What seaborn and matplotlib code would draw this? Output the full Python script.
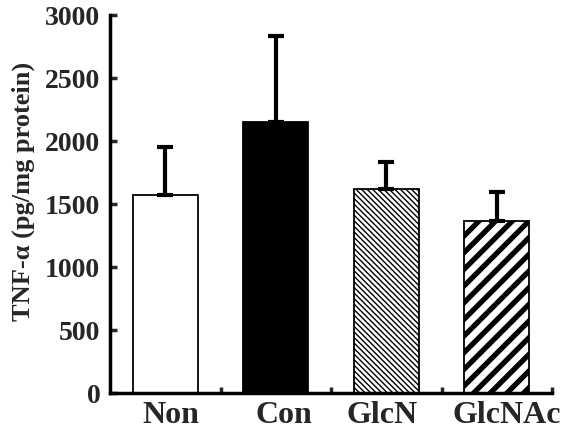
import matplotlib
matplotlib.use("Agg")
import matplotlib.pyplot as plt
import matplotlib.transforms as mtransforms
import seaborn as sns
import pandas as pd
import numpy as np

categories = ["Non", "Con", "GlcN", "GlcNAc"]
values = [1575, 2150, 1620, 1365]
errors = [380, 685, 215, 230]
fills = ["white", "black", "white", "white"]
hatches = [None, None, "\\\\\\\\\\\\", "//"]
hatch_lw = [1.0, 1.0, 1.0, 3.8]
label_shift_px = [6, 8, -4, 10]

sns.set_theme(style="white")
plt.rcParams['font.family'] = ['Liberation Serif', 'DejaVu Serif']
plt.rcParams['font.weight'] = 'bold'

df = pd.DataFrame({"group": categories, "value": values})

fig = plt.figure(figsize=(5.66, 4.40), dpi=100)
ax = fig.add_axes([110/566, 1-393/440, (552-110)/566, (393-15)/440])

sns.barplot(data=df, x="group", y="value", order=categories, ax=ax,
            width=0.59, errorbar=None, color="white", edgecolor="black",
            linewidth=1.3, zorder=2)

for i, p in enumerate(ax.patches):
    p.set_facecolor(fills[i])
    p.set_edgecolor("black")
    if hatches[i]:
        p.set_hatch(hatches[i])
        try:
            p.set_hatch_linewidth(hatch_lw[i])
        except Exception:
            pass

ax.errorbar(range(len(categories)), values, yerr=[np.zeros(len(errors)), errors],
            fmt="none", ecolor="black", elinewidth=3, capsize=6, capthick=3, zorder=3)

ax.set_xlim(-0.5, 3.5)
ax.set_ylim(0, 3000)
ax.set_yticks([0, 500, 1000, 1500, 2000, 2500, 3000])
ax.set_xticks(range(4))
ax.set_xticklabels(categories)
ax.set_xticks([0.5, 1.5, 2.5, 3.5], minor=True)
ax.tick_params(axis="x", which="major", length=0, labelsize=23, pad=6)
ax.tick_params(axis="x", which="minor", direction="in", length=4, width=2.5, bottom=True)
ax.tick_params(axis="y", which="major", direction="in", length=5, width=2.5, left=True, labelsize=20, pad=7)
for lab in ax.get_xticklabels() + ax.get_yticklabels():
    lab.set_fontweight("bold")
for lab, dx in zip(ax.get_xticklabels(), label_shift_px):
    lab.set_transform(lab.get_transform() + mtransforms.ScaledTranslation(dx / 100, 0, fig.dpi_scale_trans))
ax.set_xlabel("")
ax.set_ylabel("TNF-α (pg/mg protein)", fontsize=19, fontweight="bold")
ax.yaxis.set_label_coords(-0.170, 0.534)

for s in ["top", "right"]:
    ax.spines[s].set_visible(False)
for s in ["left", "bottom"]:
    ax.spines[s].set_linewidth(2.5)
    ax.spines[s].set_color("black")
ax.grid(False)

fig.savefig("out.png", dpi=100)
